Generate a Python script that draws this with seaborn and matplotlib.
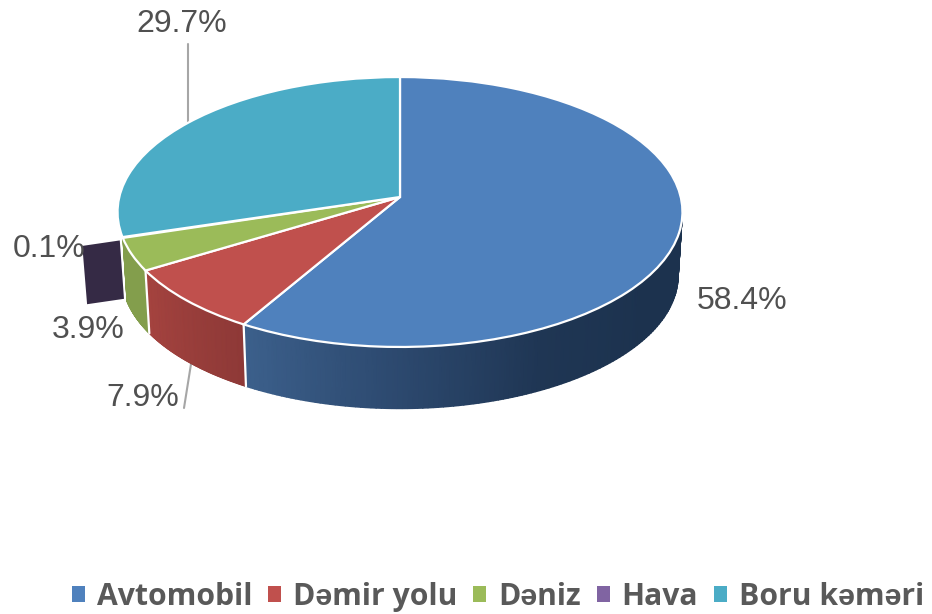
import numpy as np
import seaborn as sns
import matplotlib
matplotlib.use('Agg')
import matplotlib.pyplot as plt
import matplotlib.transforms as mtransforms
from matplotlib.patches import Polygon, Patch

categories = ['Avtomobil', 'Dəmir yolu', 'Dəniz', 'Hava', 'Boru kəməri']
shares = [58.4, 7.9, 3.9, 0.1, 29.7]
labels = ['58.4%', '7.9%', '3.9%', '0.1%', '29.7%']
explode = [0, 0, 0, 0.14, 0]

top_colors = ['#4f81bd', '#c0504d', '#9bbb59', '#8064a2', '#4bacc6']
wall_colors = [['#1c324e', '#1c324e', '#1f3654', '#2d4a70', '#3c608c'],
               ['#8e3937', '#a5433f'],
               ['#839e4c', '#839e4c']]
box_color = '#352a45'
text_color = '#505050'

# label positions in pixels
label_pos = [(742, 301), (143, 398), (88, 330), (49, 249), (182, 24)]

sns.set_theme(style='white')
plt.rcParams['font.family'] = ['Liberation Sans', 'DejaVu Sans']

# tilted disc: unit circle -> picture pixels
CX, Y0, Y0B, A, B, K, S = 400.0, 197.0, 261.0, 280.7, 133.3, 1 / 9, 0.985


def project(x, y, bottom=False):
    w = 1 + K * y
    if bottom:
        return CX + S * A * x / w, Y0B - S * B * y / w
    return CX + A * x / w, Y0 - B * y / w


class Tilt(mtransforms.Transform):
    input_dims = 2
    output_dims = 2

    def transform_non_affine(self, values):
        values = np.asarray(values)
        px, py = project(values[:, 0], values[:, 1])
        return np.column_stack([px, py])


fig = plt.figure(figsize=(9.32, 6.14), dpi=100)
ax = fig.add_axes([0, 0, 1, 1])

wedges, _ = ax.pie(shares, colors=top_colors, startangle=90, counterclock=False,
                   explode=explode,
                   wedgeprops={'edgecolor': 'white', 'linewidth': 1.6, 'zorder': 5})
ax.set_aspect('auto')
ax.set_xlim(0, 932)
ax.set_ylim(614, 0)
ax.axis('off')
tilt = Tilt() + ax.transData
for w in wedges:
    w.set_transform(tilt)
wedges[3].set_visible(False)

# side walls, only the front part of the rim can be seen
edges = np.concatenate([[0], np.cumsum(shares)]) / sum(shares) * 2 * np.pi
lo_vis = np.arccos(-K)
for i in [2, 1, 0]:
    t0 = max(edges[i], lo_vis)
    t1 = edges[i + 1]
    th = np.linspace(t0, t1, 120)
    xt, yt = project(np.sin(th), np.cos(th))
    xb, yb = project(np.sin(th), np.cos(th), bottom=True)
    X = np.vstack([xt, xb])
    Y = np.vstack([yt, yb])
    C = np.vstack([th, th])
    cmap = sns.blend_palette(wall_colors[i], as_cmap=True)
    ax.pcolormesh(X, Y, C, cmap=cmap, shading='gouraud', vmin=t0, vmax=t1, zorder=2)

# white seams between the slices on the wall
for e in edges[1:3]:
    xt, yt = project(np.sin(e), np.cos(e))
    xb, yb = project(np.sin(e), np.cos(e), bottom=True)
    ax.plot([xt, xb], [yt, yb], color='white', lw=1.6, zorder=3)

# cut face of the pulled out Hava slice
mid = (edges[3] + edges[4]) / 2
sx, cx = np.sin(mid), np.cos(mid)
r_in, r_out = 1.01, 1 + explode[3]
corners = [project(r_in * sx, r_in * cx), project(r_out * sx, r_out * cx),
           project(r_out * sx, r_out * cx, bottom=True), project(r_in * sx, r_in * cx, bottom=True)]
corners = [(corners[0][0], corners[0][1] + 2.5), (corners[1][0], corners[1][1] + 2.5),
           (corners[2][0], corners[2][1] - 2.5), (corners[3][0], corners[3][1] - 2.5)]
ax.add_patch(Polygon(corners, closed=True, facecolor=box_color, edgecolor='none', zorder=6))

# leader lines
ax.plot([188, 188], [44, 123], color='#a6a6a6', lw=1.5, zorder=1)
ax.plot([191, 184], [364, 408], color='#a6a6a6', lw=1.5, zorder=1)

for (px, py), txt in zip(label_pos, labels):
    ax.text(px, py, txt, fontsize=23, color=text_color, ha='center', va='center', zorder=8)

handles = [Patch(facecolor=c, edgecolor='none') for c in top_colors]
leg = ax.legend(handles, categories, loc='center', bbox_to_anchor=(498 / 932, 1 - 597 / 614),
                ncol=5, frameon=False, handlelength=0.43, handleheight=0.43,
                handletextpad=0.4, columnspacing=0.52, borderpad=0,
                prop={'family': ['Open Sans', 'Liberation Sans', 'DejaVu Sans'], 'weight': 'bold', 'size': 21.7},
                labelcolor='#595959')

fig.savefig('out.png', dpi=100)
